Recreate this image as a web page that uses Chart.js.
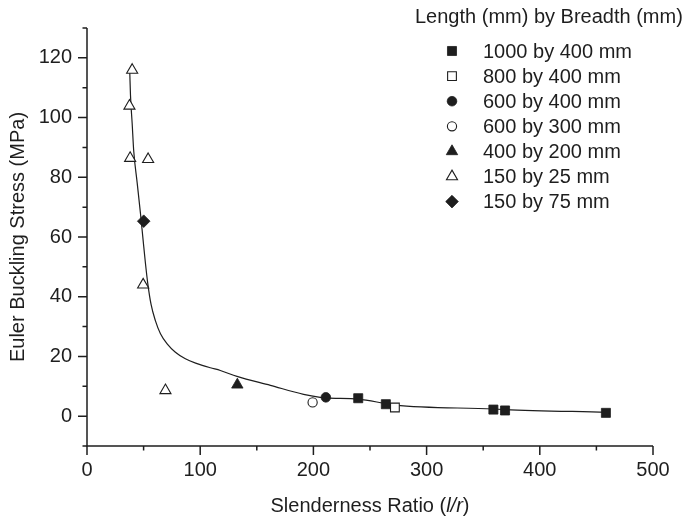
<!DOCTYPE html>
<html>
<head>
<meta charset="utf-8">
<script src="https://cdn.jsdelivr.net/npm/chart.js@4/dist/chart.umd.min.js"></script>
<style>
html,body{margin:0;padding:0;background:#ffffff;}
canvas{display:block;}
</style>
</head>
<body>
<canvas id="c" width="684" height="520"></canvas>
<script>
// ---------- data ----------
const legendTitle = 'Length (mm) by Breadth (mm)';
const seriesNames = ['1000 by 400 mm','800 by 400 mm','600 by 400 mm','600 by 300 mm','400 by 200 mm','150 by 25 mm','150 by 75 mm'];

const s1000x400X = [239.6, 264, 359, 369.3, 458.4];
const s1000x400Y = [6.0, 4.0, 2.2, 1.9, 1.1];
const s800x400X = [272];
const s800x400Y = [2.9];
const s600x400X = [211];
const s600x400Y = [6.3];
const s600x300X = [199.3];
const s600x300Y = [4.6];
const s400x200X = [132.8];
const s400x200Y = [10.5];
const s150x25X = [39.9, 37.5, 38.1, 54.0, 49.6, 69.3];
const s150x25Y = [115.9, 103.9, 86.4, 86.0, 44.0, 8.6];
const s150x75X = [50.1];
const s150x75Y = [65.3];

const curveX = [37.8, 38.4, 39.9, 41.3, 44.3, 47.2, 49.5, 51.6, 53.7, 56.6, 60.4, 64.9, 70.8, 78.1, 86.9, 97.2, 109, 117.8, 132.5, 162, 191.3, 206, 211, 239.6, 264, 272, 359, 369, 458.4];
const curveY = [115, 107.6, 98, 88.7, 78.2, 68.0, 59.2, 51.3, 44.4, 37.4, 32.0, 27.6, 24.2, 21.4, 19.2, 17.6, 16.2, 15.3, 13.3, 10.3, 7.3, 6.3, 6.1, 5.7, 4.2, 3.7, 2.4, 2.2, 1.3];

const xTitleParts = [['Slenderness Ratio (', false], ['l/r', true], [')', false]];
const yTitle = 'Euler Buckling Stress (MPa)';
const xMin = 0, xMax = 500, xStep = 50, xMajor = 100;
const yMin = -10, yMax = 130, yStep = 10, yMajor = 20;

// ---------- helpers ----------
const F = '"Liberation Sans", Arial, Helvetica, sans-serif';
const ink = '#1e1e1e';
const pts = (xs, ys) => xs.map((v, i) => ({x: v, y: ys[i]}));

function marker(label, xs, ys, style, filled, radius) {
  return {
    label, data: pts(xs, ys), showLine: false,
    pointStyle: style, pointRadius: radius, pointHoverRadius: radius,
    pointBackgroundColor: filled ? ink : '#ffffff',
    pointBorderColor: ink, pointBorderWidth: filled ? 0.8 : 1.1,
    isMarker: true
  };
}

const datasets = [
  marker(seriesNames[0], s1000x400X, s1000x400Y, 'rect', true, 6.4),
  marker(seriesNames[1], s800x400X, s800x400Y, 'rect', false, 6.2),
  marker(seriesNames[2], s600x400X, s600x400Y, 'circle', true, 4.8),
  marker(seriesNames[3], s600x300X, s600x300Y, 'circle', false, 4.6),
  marker(seriesNames[4], s400x200X, s400x200Y, 'triangle', true, 6.6),
  marker(seriesNames[5], s150x25X, s150x25Y, 'triangle', false, 6.4),
  marker(seriesNames[6], s150x75X, s150x75Y, 'rectRot', true, 6.3),
  {
    label: 'fit', data: pts(curveX, curveY), type: 'line', showLine: true,
    borderColor: ink, borderWidth: 1.2, pointRadius: 0, fill: false,
    cubicInterpolationMode: 'monotone'
  }
];

const decor = {
  id: 'decor',
  beforeDatasetsDraw(chart) {
    const {ctx, chartArea: a, scales: {x, y}} = chart;
    ctx.save();
    ctx.strokeStyle = ink;
    ctx.lineWidth = 1.5;
    ctx.beginPath();
    ctx.moveTo(a.left, a.top);
    ctx.lineTo(a.left, a.bottom);
    ctx.lineTo(a.right, a.bottom);
    ctx.stroke();
    ctx.beginPath();
    for (let v = yMin; v <= yMax + 1e-9; v += yStep) {
      const py = y.getPixelForValue(v);
      const len = (Math.abs(v % yMajor) < 1e-9) ? 9 : 4.5;
      ctx.moveTo(a.left - len, py);
      ctx.lineTo(a.left, py);
    }
    for (let v = xMin; v <= xMax + 1e-9; v += xStep) {
      const px = x.getPixelForValue(v);
      const len = (Math.abs(v % xMajor) < 1e-9) ? 9 : 4.5;
      ctx.moveTo(px, a.bottom);
      ctx.lineTo(px, a.bottom + len);
    }
    ctx.stroke();
    ctx.restore();
  },
  afterDraw(chart) {
    const {ctx, chartArea: a} = chart;
    ctx.save();
    ctx.fillStyle = ink;
    ctx.textBaseline = 'alphabetic';
    const fonts = it => (it ? 'italic ' : '') + '20px ' + F;
    let total = 0;
    xTitleParts.forEach(([t, it]) => { ctx.font = fonts(it); total += ctx.measureText(t).width; });
    let cx = (a.left + a.right) / 2 - total / 2;
    xTitleParts.forEach(([t, it]) => {
      ctx.font = fonts(it);
      ctx.textAlign = 'left';
      ctx.fillText(t, cx, 512);
      cx += ctx.measureText(t).width;
    });
    ctx.save();
    ctx.translate(23.5, (a.top + a.bottom) / 2);
    ctx.rotate(-Math.PI / 2);
    ctx.font = '20px ' + F;
    ctx.textAlign = 'center';
    ctx.fillText(yTitle, 0, 0);
    ctx.restore();
    ctx.font = '20px ' + F;
    ctx.textAlign = 'left';
    ctx.fillText(legendTitle, 415, 23);
    let row = 0;
    chart.data.datasets.forEach(d => {
      if (!d.isMarker) return;
      const cy = 51 + row * 25.1;
      ctx.fillStyle = d.pointBackgroundColor;
      ctx.strokeStyle = d.pointBorderColor;
      ctx.lineWidth = d.pointBorderWidth;
      Chart.helpers.drawPoint(ctx, {pointStyle: d.pointStyle, radius: d.pointRadius, rotation: 0, borderWidth: d.pointBorderWidth}, 452, cy);
      ctx.fillStyle = ink;
      ctx.fillText(d.label, 483, cy + 6.8);
      row++;
    });
    ctx.restore();
  }
};

new Chart(document.getElementById('c'), {
  type: 'scatter',
  data: {datasets},
  options: {
    responsive: false,
    animation: false,
    devicePixelRatio: 1,
    layout: {padding: {left: 0, right: 31, top: 28, bottom: 0}},
    plugins: {legend: {display: false}, tooltip: {enabled: false}},
    elements: {line: {tension: 0}},
    scales: {
      x: {
        type: 'linear', min: xMin, max: xMax,
        afterFit(s) { s.height = 74; },
        grid: {display: false, drawTicks: false},
        border: {display: false},
        ticks: {
          stepSize: xStep, autoSkip: false, maxRotation: 0, padding: 12,
          color: ink, font: {family: F, size: 20},
          callback: v => (v % xMajor === 0) ? String(v) : ''
        }
      },
      y: {
        type: 'linear', min: yMin, max: yMax,
        afterFit(s) { s.width = 87; },
        grid: {display: false, drawTicks: false},
        border: {display: false},
        ticks: {
          stepSize: yStep, autoSkip: false, padding: 15,
          color: ink, font: {family: F, size: 20},
          callback: v => (v % yMajor === 0 && v >= 0 && v <= 120) ? String(v) : ''
        }
      }
    }
  },
  plugins: [decor]
});
</script>
</body>
</html>
